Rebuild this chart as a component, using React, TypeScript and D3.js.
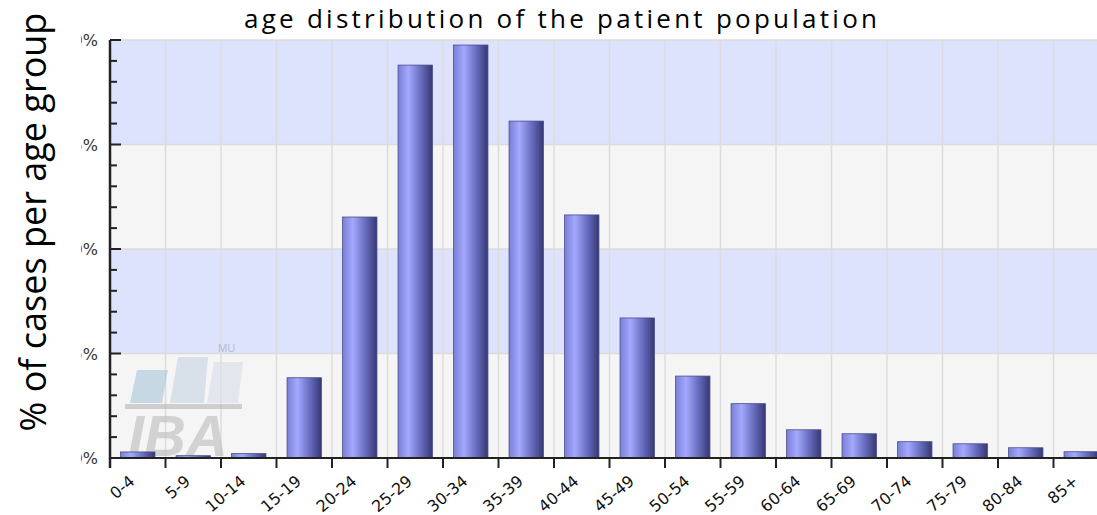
import React from "react";
import * as d3 from "d3";

const categories = ["0-4","5-9","10-14","15-19","20-24","25-29","30-34","35-39","40-44","45-49","50-54","55-59","60-64","65-69","70-74","75-79","80-84","85+"];
const values = [0.29,0.11,0.21,3.84,11.53,18.8,19.76,16.12,11.63,6.7,3.92,2.6,1.35,1.16,0.78,0.68,0.49,0.3];
const yTicks = [0,5,10,15,20];
const yTickLabels = ["0%","5%","10%","15%","20%"];
const title = "age distribution of the patient population";
const yTitle = "% of cases per age group";

export default function App() {
  const W = 1097, H = 515;
  const left = 110, right = 1109, top = 40, bottom = 458;
  const x = d3.scaleBand().domain(categories).range([left, right]).paddingInner(0.38).paddingOuter(0.19);
  const xb = d3.scaleBand().domain(categories).range([left, right]);
  const y = d3.scaleLinear().domain([0, 20]).range([bottom, top]);
  const minor = d3.range(0, 20.001, 1);
  const font = "'Open Sans', sans-serif";
  return (
    <svg width={W} height={H} style={{ position: "absolute", left: 0, top: 0 }}>
      <defs>
        <linearGradient id="bar" x1="0" x2="1" y1="0" y2="0">
          <stop offset="0" stopColor="#7a7fd6" />
          <stop offset="0.3" stopColor="#a4a9ff" />
          <stop offset="0.65" stopColor="#6a6ec0" />
          <stop offset="1" stopColor="#353873" />
        </linearGradient>
        <clipPath id="ylab"><rect x={81} y={0} width={27} height={H} /></clipPath>
      </defs>
      <rect width={W} height={H} fill="#fff" />
      {yTicks.slice(0, -1).map((t, i) => (
        <rect key={i} x={left} y={y(yTicks[i + 1])} width={right - left} height={y(t) - y(yTicks[i + 1])}
          fill={i % 2 === 0 ? "#f5f5f5" : "#dde3fc"} />
      ))}
      {yTicks.map((t, i) => (
        <line key={i} x1={left} x2={right} y1={y(t)} y2={y(t)} stroke="#dcdcdc" strokeWidth={1.5} />
      ))}
      {categories.map((c, i) => (
        <line key={i} x1={xb(c)!} x2={xb(c)!} y1={top} y2={bottom} stroke="#dcdcdc" strokeWidth={1.5} />
      ))}
      {/* watermark */}
      <g opacity={0.6}>
        <polygon points="130,403 162,403 168,370 137,370" fill="#a9c6dc" />
        <polygon points="170,403 204,403 208,357 178,357" fill="#c6d3e2" />
        <polygon points="207,403 238,403 243,362 214,362" fill="#d8dfe8" />
        <rect x={125} y={404} width={117} height={5} fill="#b5b5b5" />
        <text x={128} y={456} fontFamily="'Liberation Sans', sans-serif" fontWeight="bold" fontStyle="italic" fontSize={58} fill="#bcbcbc">IBA</text>
        <text x={218} y={352} fontFamily="'Liberation Sans', sans-serif" fontSize={11} fill="#9aa4c4">MU</text>
      </g>
      {categories.map((c, i) => (
        <rect key={c} x={x(c)!} y={y(values[i])} width={x.bandwidth()} height={bottom - y(values[i])}
          fill="url(#bar)" stroke="#4a4d8a" strokeWidth={0.8} />
      ))}
      <line x1={left} x2={right} y1={bottom} y2={bottom} stroke="#222" strokeWidth={2} />
      <line x1={left} x2={left} y1={top} y2={bottom + 10} stroke="#222" strokeWidth={2.5} />
      {minor.map((m) => (
        <line key={m} x1={left} x2={left + (m % 5 === 0 ? 11 : 7)} y1={y(m)} y2={y(m)} stroke="#222" strokeWidth={2} />
      ))}
      {categories.map((c) => (
        <line key={c} x1={xb(c)! + xb.bandwidth()} x2={xb(c)! + xb.bandwidth()} y1={bottom} y2={bottom + 10} stroke="#222" strokeWidth={2} />
      ))}
      <g clipPath="url(#ylab)">
        {yTicks.map((t, i) => (
          <text key={t} x={98} y={y(t) + 6} textAnchor="end" fontFamily="'DejaVu Sans', sans-serif" fontSize={16} fill="#333">{yTickLabels[i]}</text>
        ))}
      </g>
      {categories.map((c) => {
        const cx = xb(c)! + xb.bandwidth() / 2;
        return (
          <text key={c} transform={`translate(${cx - 2},${bottom + 25}) rotate(-40)`} textAnchor="end"
            fontFamily="'DejaVu Sans', sans-serif" fontSize={16} fill="#111">{c}</text>
        );
      })}
      <text x={560.5} y={28} textAnchor="middle" fontFamily={font} fontSize={26} textLength={633} lengthAdjust="spacing" fill="#000">{title}</text>
      <text transform={`translate(46,${222}) rotate(-90)`} textAnchor="middle" fontFamily={font} fontSize={36} fill="#000">{yTitle}</text>
    </svg>
  );
}
